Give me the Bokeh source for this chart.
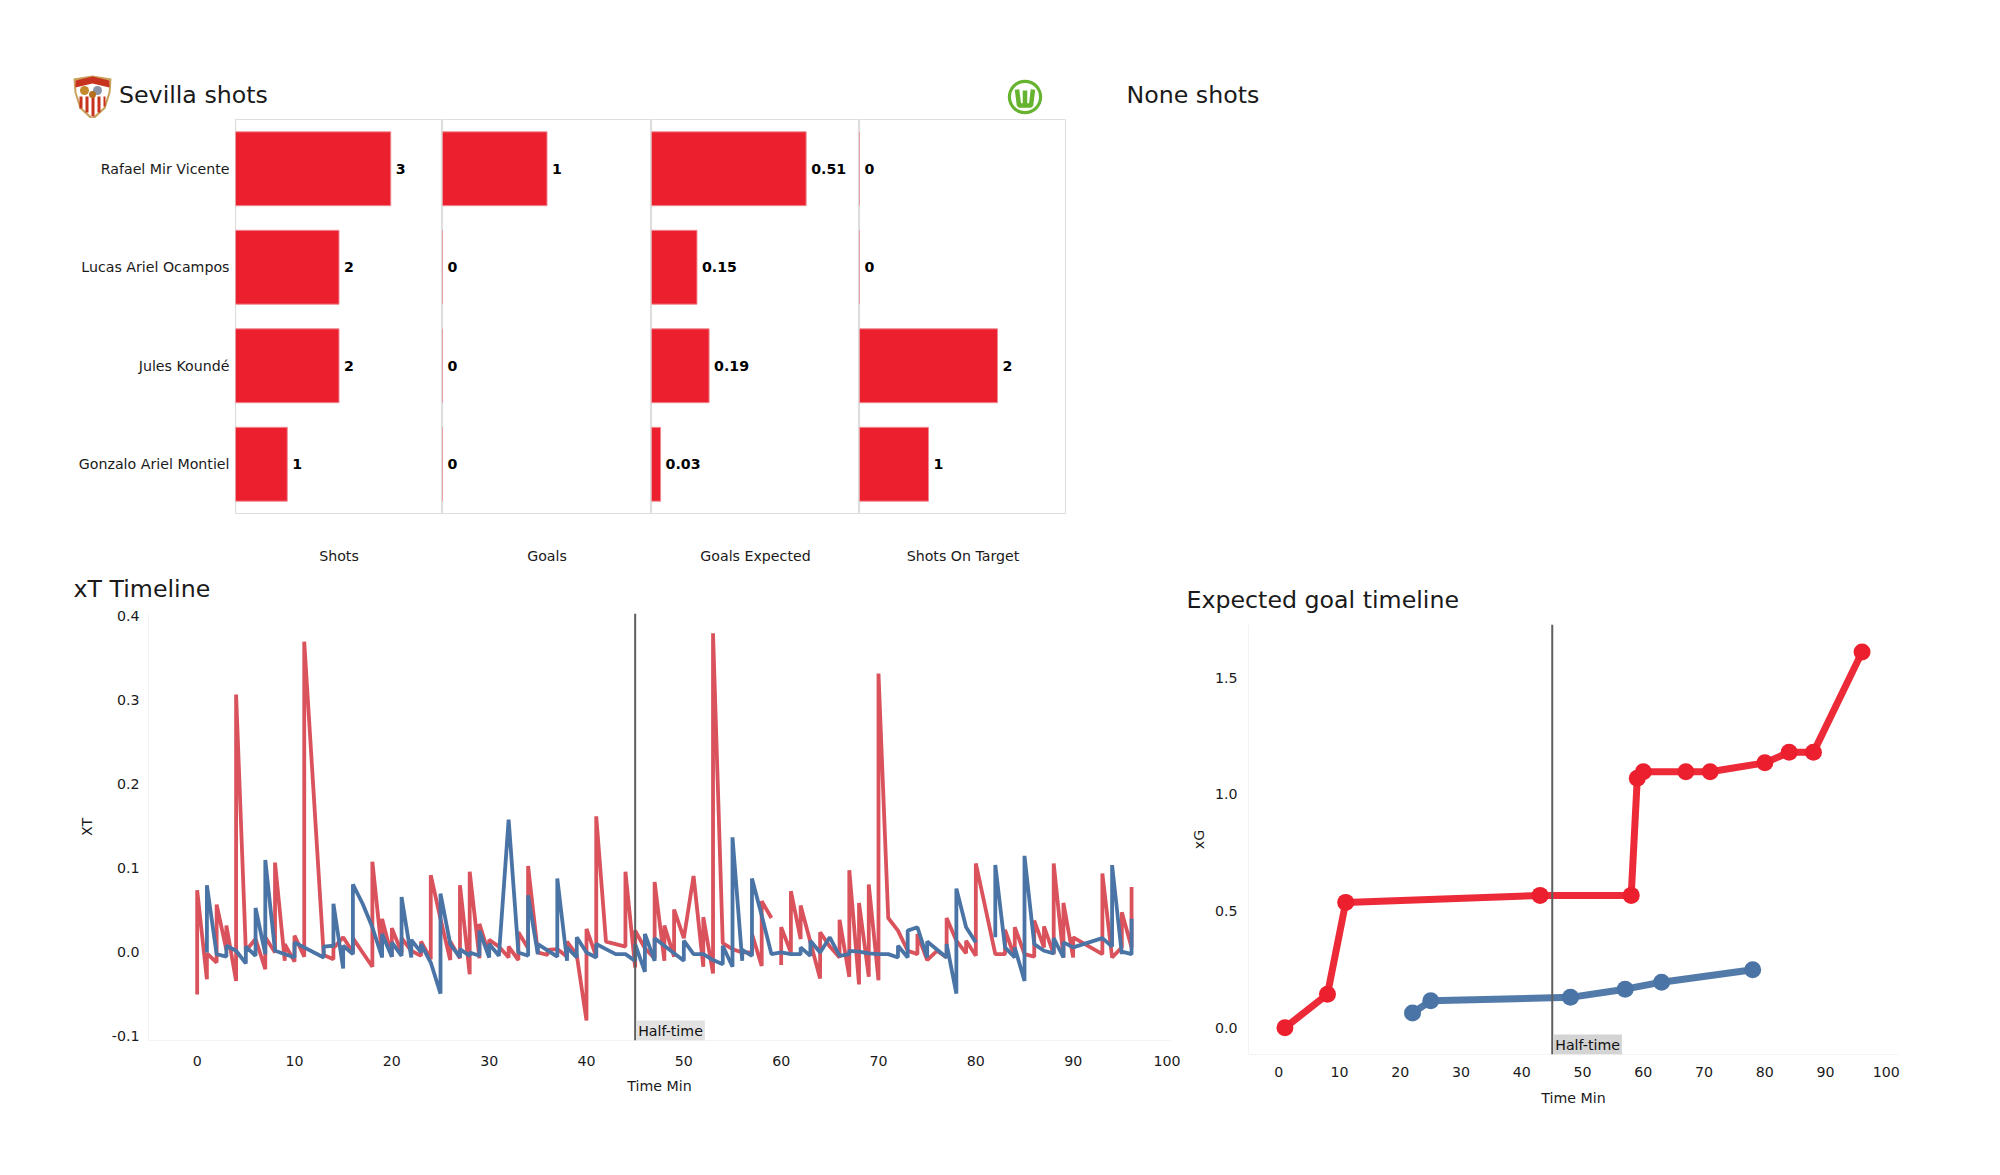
from bokeh.plotting import figure
from bokeh.layouts import column, row
from bokeh.models import Range1d, FactorRange, FixedTicker, NumeralTickFormatter, Label, Span, Spacer
from bokeh.core.properties import value
from bokeh.embed import file_html
from bokeh.resources import INLINE

NaN = float("nan")
FONT = "DejaVu Sans"
RED = "#EB1F2D"
XT_RED = "#D9525C"
BLUE = "#4A74A5"
INK = "#1a1a1a"
LABEL_SIZE = "14.2px"
TITLE_SIZE = "23.7px"

players = ["Rafael Mir Vicente", "Lucas Ariel Ocampos", "Jules Koundé", "Gonzalo Ariel Montiel"]
shots = [3, 2, 2, 1]
goals = [1, 0, 0, 0]
goals_expected = [0.51, 0.15, 0.19, 0.03]
shots_on_target = [0, 0, 2, 1]
goals_expected_labels = ["0.51", "0.15", "0.19", "0.03"]

xt_red_min = [0,0,1,1,2,2,3,3,4,4,5,6,7,7,8,8,9,9,10,10,11,11,13,14,14,15,16,16,17,18,18,19,19,20,20,21,21,22,23,23,
              24,24,25,26,26,27,27,28,28,29,29,30,30,31,32,32,33,33,34,34,35,36,36,37,38,38,39,40,40,41,41,42,44,44,
              45,45,46,47,47,48,48,49,49,50,51,52,52,53,53,54,55,56,57,57,58,58,59,59,
              60,60,61,61,62,62,64,64,65,66,66,67,67,68,68,69,69,70,70,71,72,73,74,74,75,76,77,77,78,79,79,80,80,
              82,83,83,84,84,85,86,86,87,87,88,88,89,89,90,90,93,93,94,95,95,96,96]
xt_red = [-0.05,0.074,-0.032,-0.001,-0.012,0.057,0.003,0.032,-0.034,0.307,0.002,0.016,-0.02,0.018,0.0,0.107,-0.01,0.01,-0.011,0.02,
          -0.005,0.37,-0.003,-0.008,0.005,0.018,0.0,0.017,0.0,-0.017,0.108,-0.003,0.04,-0.005,0.029,0.0,0.017,0.002,-0.004,0.013,
          -0.008,0.092,0.04,-0.009,0.013,-0.007,0.08,-0.026,0.096,-0.007,0.034,-0.003,0.015,0.007,-0.006,0.007,-0.009,0.024,0.005,0.103,
          0.0,-0.003,0.003,0.004,-0.005,0.013,-0.003,-0.081,0.028,-0.005,0.162,0.013,0.007,0.096,
          -0.018,0.026,0.005,-0.007,0.084,-0.01,0.032,-0.005,0.051,0.017,0.091,-0.017,0.042,-0.025,0.38,0.011,0.004,0.0,0.0,0.022,-0.016,0.061,0.041,NaN,
          -0.015,0.03,0.0,0.073,0.016,0.056,-0.031,0.024,0.007,-0.006,0.039,-0.029,0.098,-0.038,0.059,-0.029,0.081,-0.033,0.332,0.041,0.026,0.002,-0.002,0.022,-0.009,0.002,-0.006,0.041,0.014,-0.001,0.014,-0.004,0.106,
          -0.002,-0.002,0.027,-0.006,0.03,-0.002,-0.005,0.038,0.006,0.031,-0.002,0.106,-0.006,0.059,-0.006,0.018,-0.002,0.094,-0.006,0.006,0.048,0.006,0.078]

xt_blue_min = [1,1,2,3,3,4,5,5,6,6,7,7,8,10,10,13,13,14,14,15,15,16,16,17,18,19,19,20,20,21,21,22,22,23,23,24,25,25,26,27,27,28,28,29,29,30,30,
               31,32,33,34,34,35,35,37,37,38,38,39,39,40,41,41,42,43,44,45,45,46,46,47,47,48,49,50,50,51,52,53,54,54,55,55,56,56,57,57,58,59,
               60,61,62,62,63,63,64,65,66,67,67,68,69,70,71,72,72,73,73,74,75,75,77,77,78,78,79,80,80,
               82,82,83,84,84,85,85,86,87,88,88,89,89,90,93,94,94,95,95,96,96]
xt_blue = [0.0,0.08,-0.002,-0.005,0.008,0.002,-0.013,0.007,-0.004,0.053,-0.002,0.11,0.002,-0.006,0.012,-0.006,0.007,0.008,0.058,-0.019,0.008,-0.002,0.081,0.058,0.03,-0.006,0.022,-0.005,0.012,-0.004,0.066,-0.006,0.015,0.0,0.01,-0.012,-0.049,0.07,0.01,-0.006,0.004,-0.004,0.0,-0.004,0.026,-0.006,0.01,
           -0.004,0.158,0.0,-0.004,0.068,-0.002,0.01,-0.005,0.088,-0.01,0.006,-0.006,0.018,0.0,-0.006,0.01,0.004,-0.002,-0.002,-0.01,0.01,-0.023,0.022,-0.01,0.017,0.008,-0.001,-0.01,0.014,-0.002,-0.002,-0.009,-0.014,0.008,-0.017,0.137,-0.01,0.003,-0.004,0.088,0.044,-0.002,
           0.0,-0.002,-0.002,0.006,-0.004,0.014,0.0,0.018,-0.004,-0.002,0.002,0.001,-0.001,-0.002,-0.002,-0.006,0.008,-0.006,0.026,0.03,-0.006,0.013,-0.006,0.01,-0.049,0.076,0.03,0.012,NaN,
           0.018,0.104,0.006,-0.006,0.006,-0.034,0.115,0.01,0.002,-0.001,0.017,-0.006,0.012,0.006,0.017,0.007,0.104,-0.002,0.001,-0.002,0.04]

xg_red_min = [1, 8, 11, 43, 58, 59, 60, 67, 71, 80, 84, 88, 96]
xg_red = [0.0, 0.143, 0.537, 0.567, 0.567, 1.069, 1.097, 1.097, 1.097, 1.135, 1.18, 1.18, 1.61]
xg_blue_min = [22, 25, 48, 57, 63, 78]
xg_blue = [0.063, 0.115, 0.13, 0.165, 0.195, 0.248]
minute_ticks = [0, 10, 20, 30, 40, 50, 60, 70, 80, 90, 100]
xt_ticks = [-0.1, 0.0, 0.1, 0.2, 0.3, 0.4]
xg_ticks = [0.0, 0.5, 1.0, 1.5]
half_time = 45


# ---- text and crest strips, drawn in window pixels
def strip(x0, x1, y0, y1):
    p = figure(width=x1 - x0, height=y1 - y0, x_range=Range1d(x0, x1), y_range=Range1d(y1, y0),
               toolbar_location=None, output_backend="svg", min_border=0, outline_line_color=None,
               x_axis_location=None, y_axis_location=None)
    p.grid.visible = False
    return p


def heading(p, x, y, text):
    p.text(x=[x], y=[y], text=[text], text_baseline="middle", text_font=value(FONT),
           text_font_size=TITLE_SIZE, text_color=INK)


head = strip(8, 1992, 8, 118)
heading(head, 118.5, 94, "Sevilla shots")
heading(head, 1126, 94, "None shots")
# Sevilla crest
head.patch([73, 92, 111, 110, 105, 92, 79, 74], [78, 75, 78, 92, 108, 120, 108, 92], fill_color="#C9A15A", line_color=None)
head.patch([75, 92, 109, 108, 103, 92, 81, 76], [80, 78, 80, 92, 107, 117, 107, 92], fill_color="#FFFFFF", line_color=None)
head.patch([75, 92, 109, 109, 92, 75], [80, 76, 80, 87, 83, 87], fill_color="#C8331F", line_color=None)
head.quad(left=[79, 85, 91, 97, 103], right=[82, 88, 94, 100, 105], top=[96, 96, 96, 96, 96],
          bottom=[108, 112, 116, 112, 106], fill_color="#C8331F", line_color=None)
head.circle(x=[84, 97], y=[90, 90], radius=4.5, fill_color=["#C58A2E", "#8A93A8"], line_color=None)
head.circle(x=[92], y=[94], radius=3.5, fill_color="#B5701F", line_color=None)
# Wolfsburg crest
head.annulus(x=[1024.5], y=[96.5], inner_radius=14, outer_radius=17.2, fill_color="#65B32E", line_color=None)
head.line([1016.5, 1018.5, 1024.5, 1030.5, 1032.5], [89, 105, 105, 105, 89], line_color="#65B32E", line_width=4.5)
head.line([1024.5, 1024.5], [90, 104], line_color="#65B32E", line_width=4.5)

strip_xt = strip(8, 1180, 572, 605)
heading(strip_xt, 73, 588, "xT Timeline")
strip_xg = strip(1180, 1992, 572, 616)
heading(strip_xg, 1186, 599.5, "Expected goal timeline")


# ---- bar panels
def bar_panel(vals, labels, title, xmax, width, left=0):
    p = figure(width=width, height=454, y_range=FactorRange(factors=players[::-1]),
               x_range=Range1d(0, xmax), toolbar_location=None, output_backend="svg",
               min_border_left=left, min_border_right=0, min_border_top=1, min_border_bottom=59,
               outline_line_color="#DEDEDE", outline_line_width=1.2)
    p.grid.visible = False
    p.hbar(y=players, left=0, right=vals, height=0.75, fill_color=RED, line_color="#F08A92", line_width=1)
    p.text(x=vals, y=players, text=labels, x_offset=5, text_baseline="middle", text_font=value(FONT),
           text_font_size=LABEL_SIZE, text_font_style="bold", text_color="#000000")
    p.xaxis.ticker = FixedTicker(ticks=[])
    p.xaxis.axis_line_color = None
    p.xaxis.major_tick_line_color = None
    p.xaxis.minor_tick_line_color = None
    p.xaxis.axis_label = title
    p.xaxis.axis_label_standoff = 34
    p.xaxis.axis_label_text_font = FONT
    p.xaxis.axis_label_text_font_style = "normal"
    p.xaxis.axis_label_text_font_size = LABEL_SIZE
    p.xaxis.axis_label_text_color = INK
    p.yaxis.axis_line_color = None
    p.yaxis.major_tick_line_color = None
    p.yaxis.minor_tick_line_color = None
    p.yaxis.major_label_standoff = 0
    p.yaxis.major_label_text_font = FONT
    p.yaxis.major_label_text_font_size = LABEL_SIZE
    p.yaxis.major_label_text_color = INK
    if not left:
        p.yaxis.visible = False
    return p


b1 = bar_panel(shots, [str(v) for v in shots], "Shots", 4, 434, left=227)
b2 = bar_panel(goals, [str(v) for v in goals], "Goals", 2, 209)
b3 = bar_panel(goals_expected, goals_expected_labels, "Goals Expected", 0.686, 208)
b4 = bar_panel(shots_on_target, [str(v) for v in shots_on_target], "Shots On Target", 3, 207)


# ---- timelines
def timeline(ylabel, xr, yr, w, h, ml, mr, yticks, ystand, ylab_stand, xstand, xlab_stand, hl_bg):
    p = figure(width=w, height=h, x_range=Range1d(*xr), y_range=Range1d(*yr), toolbar_location=None,
               output_backend="svg", min_border_left=ml, min_border_right=mr, min_border_top=8,
               min_border_bottom=60, outline_line_color=None)
    p.grid.visible = False
    for ax, lab, ticks in ((p.xaxis, "Time Min", minute_ticks), (p.yaxis, ylabel, yticks)):
        ax.ticker = FixedTicker(ticks=ticks)
        ax.axis_label = lab
        ax.axis_label_text_font = FONT
        ax.axis_label_text_font_style = "normal"
        ax.axis_label_text_font_size = LABEL_SIZE
        ax.axis_label_text_color = INK
        ax.major_label_text_font = FONT
        ax.major_label_text_font_size = LABEL_SIZE
        ax.major_label_text_color = INK
        ax.axis_line_color = "#F3F3F3"
        ax.major_tick_line_color = None
        ax.minor_tick_line_color = None
    p.yaxis.formatter = NumeralTickFormatter(format="0.0")
    p.yaxis.major_label_standoff = ystand
    p.xaxis.major_label_standoff = xstand
    p.xaxis.axis_label_standoff = xlab_stand
    p.yaxis.axis_label_standoff = ylab_stand
    p.add_layout(Span(location=half_time, dimension="height", line_color="#5E5E5E", line_width=2))
    p.add_layout(Label(x=half_time, y=yr[0], x_offset=1, y_offset=0, text="Half-time", text_font=FONT,
                       text_font_size=LABEL_SIZE, text_color="#111111", background_fill_color=hl_bg,
                       padding=2))
    return p


xt = timeline("XT", (-5, 100), (-0.1048, 0.4035), 1172, 495, 140, 10, xt_ticks, 3, 14, 9, 9, "#E2E2E2")
xt.line(xt_red_min, xt_red, line_color=XT_RED, line_width=3.8)
xt.line(xt_blue_min, xt_blue, line_color=BLUE, line_width=3.8)

xg = timeline("xG", (-5, 102), (-0.115, 1.728), 812, 498, 68, 94, xg_ticks, 5, 5, 6, 10, "#D4D4D4")
xg.line(xg_red_min, xg_red, line_color=RED, line_width=7, line_alpha=0.95)
xg.scatter(xg_red_min, xg_red, size=17, fill_color=RED, line_color=None)
xg.line(xg_blue_min, xg_blue, line_color=BLUE, line_width=7, line_alpha=0.95)
xg.scatter(xg_blue_min, xg_blue, size=17, fill_color=BLUE, line_color=None)

body = column(head, row(b1, b2, b3, b4),
              row(column(row(strip_xt), xt), column(row(strip_xg), xg)))
page = column(Spacer(width=1992, height=8), row(Spacer(width=8, height=1100), body))
open("out.html", "w").write(file_html(page, INLINE))
